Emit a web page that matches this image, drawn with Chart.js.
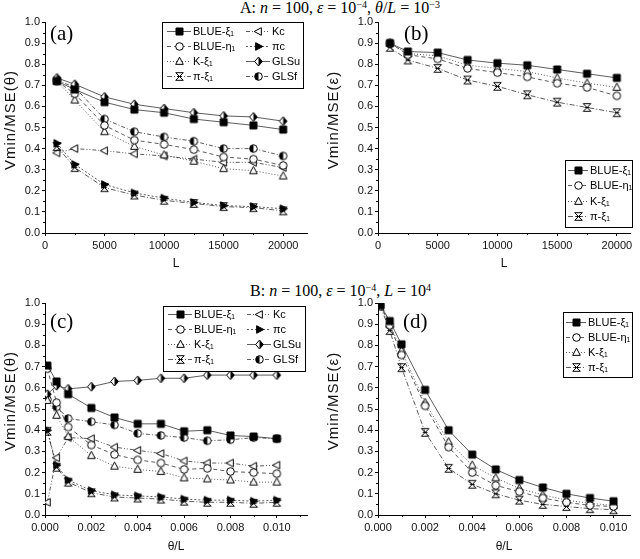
<!DOCTYPE html>
<html>
<head>
<meta charset="utf-8">
<script src="https://cdn.jsdelivr.net/npm/chart.js@4/dist/chart.umd.min.js"></script>
<style>
body { margin: 0; background: #fff; width: 640px; height: 559px; position: relative; overflow: hidden; }
canvas { position: absolute; }
.ttl { position: absolute; font-family: "Liberation Serif", serif; font-size: 16px; line-height: 16px; white-space: nowrap; color: #000; }
.ttl sup { font-size: 10px; line-height: 0; vertical-align: 5px; }
.pl { position: absolute; font-family: "Liberation Serif", serif; font-size: 21px; line-height: 21px; color: #000; }
.yt { position: absolute; width: 140px; height: 16px; line-height: 16px; text-align: center; transform: rotate(-90deg);
      font-family: "Liberation Sans", Arial, sans-serif; font-size: 15px; letter-spacing: 1px; color: #111; white-space: nowrap; }
</style>
</head>
<body>
<div class="ttl" style="left:240px;top:0px">A: <i>n</i> = 100, <i>ε</i> = 10<sup>−4</sup>, <i>θ</i>/<i>L</i> = 10<sup>−3</sup></div>
<div class="ttl" style="left:250px;top:283px">B: <i>n</i> = 100, <i>ε</i> = 10<sup>−4</sup>, <i>L</i> = 10<sup>4</sup></div>
<canvas id="chA" width="320" height="280" style="left:0;top:0"></canvas>
<canvas id="chB" width="320" height="280" style="left:320px;top:0"></canvas>
<canvas id="chC" width="320" height="279" style="left:0;top:280px"></canvas>
<canvas id="chD" width="320" height="279" style="left:320px;top:280px"></canvas>
<div class="pl" style="left:50px;top:23px">(a)</div>
<div class="pl" style="left:404px;top:23px">(b)</div>
<div class="pl" style="left:50px;top:311px">(c)</div>
<div class="pl" style="left:403px;top:311px">(d)</div>
<div class="yt" style="left:-60px;top:112px">Vmin/MSE(θ)</div>
<div class="yt" style="left:263px;top:112px">Vmin/MSE(ε)</div>
<div class="yt" style="left:-60px;top:393px">Vmin/MSE(θ)</div>
<div class="yt" style="left:263px;top:393px">Vmin/MSE(ε)</div>
<script>
// ---- data ----
var xL = [1000, 2500, 5000, 7500, 10000, 12500, 15000, 17500, 20000];
var xTheta = [0.0001, 0.0005, 0.001, 0.002, 0.003, 0.004, 0.005, 0.006, 0.007, 0.008, 0.009, 0.010];

var names = ['BLUE-ξ₁', 'BLUE-η₁', 'K-ξ₁', 'π-ξ₁', 'Kc', 'πc', 'GLSu', 'GLSf'];

// (a) Vmin/MSE(theta) vs L
var aBlueXi  = [0.72, 0.68, 0.62, 0.585, 0.57, 0.54, 0.525, 0.51, 0.49];
var aBlueEta = [0.72, 0.66, 0.51, 0.44, 0.42, 0.395, 0.36, 0.35, 0.32];
var aKXi     = [0.72, 0.63, 0.48, 0.41, 0.37, 0.34, 0.305, 0.295, 0.27];
var aPiXi    = [0.41, 0.31, 0.215, 0.18, 0.155, 0.14, 0.125, 0.12, 0.105];
var aKc      = [0.38, 0.40, 0.39, 0.375, 0.365, 0.35, 0.335, 0.335, 0.31];
var aPic     = [0.425, 0.325, 0.23, 0.19, 0.165, 0.145, 0.13, 0.125, 0.115];
var aGLSu    = [0.735, 0.705, 0.645, 0.61, 0.59, 0.57, 0.555, 0.55, 0.53];
var aGLSf    = [0.725, 0.69, 0.54, 0.48, 0.455, 0.435, 0.40, 0.40, 0.365];

// (b) Vmin/MSE(eps) vs L
var bBlueXi  = [0.90, 0.86, 0.855, 0.82, 0.805, 0.795, 0.775, 0.755, 0.735];
var bBlueEta = [0.90, 0.845, 0.825, 0.78, 0.76, 0.74, 0.71, 0.69, 0.65];
var bKXi     = [0.90, 0.85, 0.84, 0.795, 0.78, 0.765, 0.735, 0.71, 0.69];
var bPiXi    = [0.88, 0.82, 0.78, 0.725, 0.695, 0.655, 0.62, 0.595, 0.57];

// (c) Vmin/MSE(theta) vs theta/L
var cBlueXi  = [0.705, 0.63, 0.57, 0.505, 0.46, 0.43, 0.43, 0.395, 0.40, 0.375, 0.37, 0.36];
var cBlueEta = [0.69, 0.53, 0.415, 0.33, 0.285, 0.26, 0.245, 0.215, 0.22, 0.205, 0.20, 0.195];
var cKXi     = [0.54, 0.47, 0.37, 0.28, 0.23, 0.215, 0.205, 0.175, 0.17, 0.165, 0.155, 0.155];
var cPiXi    = [0.395, 0.225, 0.155, 0.105, 0.085, 0.08, 0.075, 0.065, 0.06, 0.06, 0.055, 0.06];
var cKc      = [0.06, 0.27, 0.365, 0.36, 0.32, 0.305, 0.29, 0.255, 0.245, 0.245, 0.23, 0.235];
var cPic     = [0.40, 0.235, 0.165, 0.115, 0.095, 0.09, 0.085, 0.075, 0.07, 0.07, 0.065, 0.07];
var cGLSu    = [0.57, 0.61, 0.595, 0.605, 0.63, 0.635, 0.645, 0.645, 0.66, 0.66, 0.66, 0.66];
var cGLSf    = [0.545, 0.51, 0.455, 0.44, 0.425, 0.385, 0.375, 0.365, 0.35, 0.355, 0.365, 0.36];

// (d) Vmin/MSE(eps) vs theta/L
var dBlueXi  = [0.99, 0.915, 0.805, 0.59, 0.40, 0.285, 0.215, 0.165, 0.13, 0.10, 0.08, 0.065];
var dBlueEta = [0.99, 0.895, 0.755, 0.515, 0.32, 0.20, 0.14, 0.11, 0.08, 0.06, 0.045, 0.04];
var dKXi     = [0.99, 0.90, 0.775, 0.53, 0.345, 0.235, 0.175, 0.125, 0.095, 0.07, 0.055, 0.045];
var dPiXi    = [0.985, 0.87, 0.695, 0.39, 0.22, 0.145, 0.10, 0.07, 0.05, 0.04, 0.03, 0.025];

var yTicks = [0, 0.1, 0.2, 0.3, 0.4, 0.5, 0.6, 0.7, 0.8, 0.9, 1.0];
var xTicksL = [0, 5000, 10000, 15000, 20000];
var xTicksTheta = [0, 0.002, 0.004, 0.006, 0.008, 0.010];

// ---- marker images ----
function marker(kind) {
    var s = 11, m = 5.5, r = 3.8;
    var c = document.createElement('canvas');
    c.width = s; c.height = s;
    var g = c.getContext('2d');
    g.lineWidth = 1; g.strokeStyle = '#000'; g.fillStyle = '#fff';
    function shape() {
        g.beginPath();
        if (kind == 'square') g.rect(m - 3.5, m - 3.5, 7, 7);
        else if (kind == 'circle' || kind == 'halfCircle') g.arc(m, m, r, 0, Math.PI * 2);
        else if (kind == 'triUp') { g.moveTo(m, m - r - 0.5); g.lineTo(m + r, m + r * 0.75); g.lineTo(m - r, m + r * 0.75); g.closePath(); }
        else if (kind == 'triLeft') { g.moveTo(m - r - 0.5, m); g.lineTo(m + r * 0.75, m - r); g.lineTo(m + r * 0.75, m + r); g.closePath(); }
        else if (kind == 'triRight') { g.moveTo(m + r + 0.5, m); g.lineTo(m - r * 0.75, m - r); g.lineTo(m - r * 0.75, m + r); g.closePath(); }
        else if (kind == 'halfDiamond') { g.moveTo(m, m - r - 0.7); g.lineTo(m + r, m); g.lineTo(m, m + r + 0.7); g.lineTo(m - r, m); g.closePath(); }
    }
    if (kind == 'hourglass') {
        g.beginPath();
        g.moveTo(m - r, m - r); g.lineTo(m + r, m - r); g.lineTo(m - r, m + r); g.lineTo(m + r, m + r); g.closePath();
        g.moveTo(m - r * 0.6, m); g.lineTo(m + r * 0.6, m);
        g.stroke();
        return c;
    }
    shape();
    if (kind == 'square' || kind == 'triRight') { g.fillStyle = '#000'; g.fill(); g.stroke(); return c; }
    g.fill();
    if (kind == 'halfDiamond' || kind == 'halfCircle') {
        g.save();
        g.beginPath();
        if (kind == 'halfDiamond') g.rect(m, 0, s, s); else g.rect(0, 0, m, s);
        g.clip();
        shape(); g.fillStyle = '#000'; g.fill();
        g.restore();
        shape();
    }
    g.stroke();
    return c;
}

var styles = [
    { img: marker('square'),      dash: [] },
    { img: marker('circle'),      dash: [4, 3] },
    { img: marker('triUp'),       dash: [1, 2] },
    { img: marker('hourglass'),   dash: [5, 2, 1, 2] },
    { img: marker('triLeft'),     dash: [4, 2, 1, 2, 1, 2] },
    { img: marker('triRight'),    dash: [2, 2] },
    { img: marker('halfDiamond'), dash: [] },
    { img: marker('halfCircle'),  dash: [4, 2, 1, 2] }
];

function series(xs, ys, i) {
    var pts = [];
    for (var k = 0; k < xs.length; k++) pts.push({ x: xs[k], y: ys[k] });
    return {
        label: names[i],
        data: pts,
        borderColor: '#333',
        borderWidth: 0.8,
        borderDash: styles[i].dash,
        pointStyle: styles[i].img,
        pointRadius: 4,
        fill: false,
        tension: 0
    };
}

// ---- plugins ----
var boxLegend = {
    id: 'boxLegend',
    afterDraw: function(chart, args, o) {
        var ctx = chart.ctx, b = o.box;
        ctx.save();
        ctx.fillStyle = '#fff';
        ctx.fillRect(b[0], b[1], b[2] - b[0], b[3] - b[1]);
        ctx.strokeStyle = '#000';
        ctx.lineWidth = 1;
        ctx.strokeRect(b[0] + 0.5, b[1] + 0.5, b[2] - b[0], b[3] - b[1]);
        ctx.font = '11px "Liberation Sans", Arial, sans-serif';
        ctx.textBaseline = 'middle';
        chart.data.datasets.forEach(function(ds, i) {
            var col = Math.floor(i / o.rows), row = i % o.rows;
            var x0 = o.cols[col], y = Math.round(o.y0 + row * o.gap);
            ctx.strokeStyle = ds.borderColor;
            ctx.lineWidth = ds.borderWidth;
            ctx.setLineDash(ds.borderDash);
            ctx.beginPath();
            ctx.moveTo(x0, y + 0.5);
            ctx.lineTo(x0 + o.len, y + 0.5);
            ctx.stroke();
            ctx.setLineDash([]);
            var img = ds.pointStyle;
            ctx.drawImage(img, Math.round(x0 + o.len / 2 - img.width / 2), y + 0.5 - img.height / 2);
            ctx.fillStyle = '#000';
            ctx.fillText(ds.label, x0 + o.len + 2, y + 1);
        });
        ctx.restore();
    }
};

var minorTicks = {
    id: 'minorTicks',
    afterDraw: function(chart, args, o) {
        var ctx = chart.ctx, xs = chart.scales.x, ys = chart.scales.y;
        ctx.save();
        ctx.strokeStyle = '#000';
        ctx.lineWidth = 1;
        ctx.beginPath();
        for (var v = o.xStep / 2; v < xs.max; v += o.xStep) {
            var px = Math.round(xs.getPixelForValue(v)) + 0.5;
            ctx.moveTo(px, xs.top);
            ctx.lineTo(px, xs.top + 2);
        }
        for (var w = 0.05; w < 1; w += 0.1) {
            var py = Math.round(ys.getPixelForValue(w)) + 0.5;
            ctx.moveTo(ys.right, py);
            ctx.lineTo(ys.right - 2, py);
        }
        ctx.stroke();
        ctx.restore();
    }
};

var sans = '"Liberation Sans", Arial, sans-serif';

function makeChart(id, datasets, o) {
    return new Chart(document.getElementById(id), {
        type: 'line',
        data: { datasets: datasets },
        plugins: [minorTicks, boxLegend],
        options: {
            responsive: false,
            animation: false,
            devicePixelRatio: 1,
            layout: { padding: { top: o.top, right: o.right, left: 0, bottom: 0 } },
            plugins: {
                legend: { display: false },
                tooltip: { enabled: false },
                boxLegend: o.legend,
                minorTicks: { xStep: o.xTicks[1] }
            },
            scales: {
                x: {
                    type: 'linear',
                    min: 0,
                    max: o.xMax,
                    afterFit: function(s) { s.height = o.xH; },
                    afterBuildTicks: function(s) { s.ticks = o.xTicks.map(function(v) { return { value: v }; }); },
                    border: { color: '#000', width: 1 },
                    grid: { drawOnChartArea: false, drawTicks: true, tickLength: 3, color: '#000' },
                    ticks: {
                        autoSkip: false,
                        maxRotation: 0,
                        padding: 3,
                        color: '#111',
                        font: { family: sans, size: 11 },
                        callback: function(v) { return o.xDec ? v.toFixed(o.xDec) : String(v); }
                    },
                    title: { display: true, text: o.xTitle, color: '#111', font: { family: sans, size: 12 }, padding: { top: 0, bottom: o.xTitlePad } }
                },
                y: {
                    min: 0,
                    max: 1,
                    afterFit: function(s) { s.width = o.yW; },
                    afterBuildTicks: function(s) { s.ticks = yTicks.map(function(v) { return { value: v }; }); },
                    border: { color: '#000', width: 1 },
                    grid: { drawOnChartArea: false, drawTicks: true, tickLength: 3, color: '#000' },
                    ticks: {
                        padding: 2,
                        color: '#111',
                        font: { family: sans, size: 11 },
                        callback: function(v) { return v.toFixed(1); }
                    }
                }
            }
        }
    });
}

makeChart('chA', [
    series(xL, aBlueXi, 0), series(xL, aBlueEta, 1), series(xL, aKXi, 2), series(xL, aPiXi, 3),
    series(xL, aKc, 4), series(xL, aPic, 5), series(xL, aGLSu, 6), series(xL, aGLSf, 7)
], {
    top: 22, right: 13, xH: 47, yW: 45, xMax: 22000, xTicks: xTicksL, xDec: 0,
    xTitle: 'L', xTitlePad: 9,
    legend: { box: [162, 22, 303, 88], rows: 4, cols: [167, 246], len: 24, y0: 31, gap: 15 }
});

makeChart('chB', [
    series(xL, bBlueXi, 0), series(xL, bBlueEta, 1), series(xL, bKXi, 2), series(xL, bPiXi, 3)
], {
    top: 22, right: 10, xH: 47, yW: 58, xMax: 21100, xTicks: xTicksL, xDec: 0,
    xTitle: 'L', xTitlePad: 9,
    legend: { box: [245, 160, 312, 227], rows: 4, cols: [248], len: 20, y0: 170, gap: 15.3 }
});

makeChart('chC', [
    series(xTheta, cBlueXi, 0), series(xTheta, cBlueEta, 1), series(xTheta, cKXi, 2), series(xTheta, cPiXi, 3),
    series(xTheta, cKc, 4), series(xTheta, cPic, 5), series(xTheta, cGLSu, 6), series(xTheta, cGLSf, 7)
], {
    top: 23, right: 13, xH: 44, yW: 45, xMax: 0.0113, xTicks: xTicksTheta, xDec: 3,
    xTitle: 'θ/L', xTitlePad: 5,
    legend: { box: [163, 26, 305, 91], rows: 4, cols: [168, 247], len: 24, y0: 34, gap: 15 }
});

makeChart('chD', [
    series(xTheta, dBlueXi, 0), series(xTheta, dBlueEta, 1), series(xTheta, dKXi, 2), series(xTheta, dPiXi, 3)
], {
    top: 23, right: 10, xH: 44, yW: 58, xMax: 0.0107, xTicks: xTicksTheta, xDec: 3,
    xTitle: 'θ/L', xTitlePad: 5,
    legend: { box: [243, 32, 312, 97], rows: 4, cols: [246], len: 20, y0: 42, gap: 15 }
});
</script>
</body>
</html>
